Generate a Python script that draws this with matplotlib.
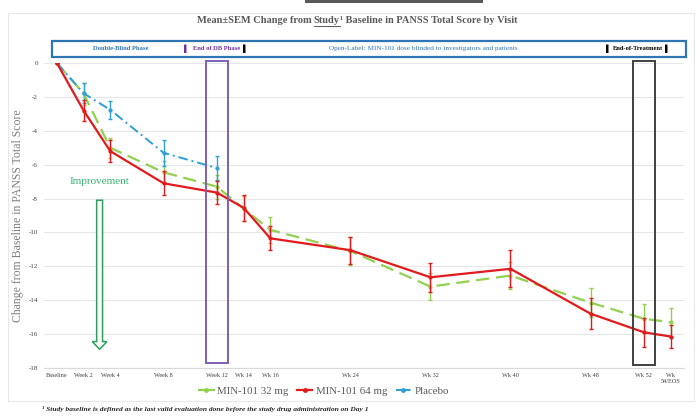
import numpy as np
import matplotlib
matplotlib.use('Agg')
import matplotlib.pyplot as plt
from matplotlib.patches import Rectangle, FancyArrow
from matplotlib.lines import Line2D

# visits, placed on an evenly spaced category axis with empty slots
visits = ['Baseline', 'Week 2', 'Week 4', 'Week 8', 'Week 12', 'Wk 14', 'Wk 16',
          'Wk 24', 'Wk 32', 'Wk 40', 'Wk 48', 'Wk 52', 'Wk\n54/EOS']
slots = [0, 1, 2, 4, 6, 7, 8, 11, 14, 17, 20, 22, 23]

mean_32 = [0, -1.8, -5.0, -6.45, -7.3, -8.6, -9.85, -11.1, -13.2, -12.55, -14.15, -15.1, -15.3]
sem_32 = [0, 0.65, 0.6, 0.65, 0.7, 0.75, 0.75, 0.8, 0.8, 0.8, 0.85, 0.85, 0.85]
mean_64 = [0, -2.8, -5.2, -7.1, -7.65, -8.55, -10.35, -11.05, -12.65, -12.15, -14.8, -15.9, -16.15]
sem_64 = [0, 0.6, 0.65, 0.7, 0.7, 0.75, 0.7, 0.8, 0.85, 1.1, 0.9, 0.85, 0.7]
placebo_visits = ['Baseline', 'Week 2', 'Week 4', 'Week 8', 'Week 12']
mean_pbo = [0, -1.78, -2.76, -5.3, -6.2]
sem_pbo = [0, 0.6, 0.55, 0.75, 0.7]

yticks = [0, -2, -4, -6, -8, -10, -12, -14, -16, -18]

serif = 'Liberation Serif'
plt.rcParams['font.family'] = serif

fig = plt.figure(figsize=(6.96, 4.18), dpi=100)
ax = fig.add_axes([0.0626, 0.12, 0.92, 0.729])

c32, c64, cpbo = '#92d050', '#e31a1c', '#2e9fd8'
ls32, lspbo = (0, (6, 3)), (0, (5, 2, 1, 2))

x = np.array(slots)
x_pbo = np.array([slots[visits.index(v)] for v in placebo_visits])
ax.errorbar(x, mean_32, yerr=sem_32, color=c32, lw=1.6, ls=ls32,
            marker='o', ms=2, elinewidth=1.0, capsize=1.5, zorder=3)
ax.errorbar(x, mean_64, yerr=sem_64, color=c64, lw=1.6, ls='-',
            marker='o', ms=2, elinewidth=1.0, capsize=1.5, zorder=4)
ax.errorbar(x_pbo, mean_pbo, yerr=sem_pbo, color=cpbo, lw=1.4, ls=lspbo,
            marker='o', ms=2, elinewidth=1.0, capsize=1.5, zorder=3)

ax.set_xlim(-0.5, 23.5)
ax.set_ylim(-18, 0)
ax.set_yticks(yticks)
ax.set_yticklabels([str(v) for v in yticks], fontsize=5, color='#404040')
ax.set_xticks(slots)
ax.set_xticklabels(visits, fontsize=4.5, color='#404040', linespacing=1.1)
ax.tick_params(length=0, pad=4)
ax.grid(axis='y', color='#e6e6e6', lw=0.8)
for s in ['top', 'right', 'left']:
    ax.spines[s].set_visible(False)
ax.spines['bottom'].set_color('#d9d9d9')
ax.set_axisbelow(True)

ax.set_ylabel('Change from Baseline in PANSS Total Score', fontsize=8.5, color='#7f7f7f', labelpad=3)

# highlight boxes for end of DB phase and end of treatment
ax.add_patch(Rectangle((5.6, -17.7), 0.8, 17.85, fill=False, ec='#7f5fb5', lw=1.4,
                       clip_on=False, zorder=5))
ax.add_patch(Rectangle((21.6, -17.85), 0.8, 18.0, fill=False, ec='#404040', lw=1.4,
                       clip_on=False, zorder=5))

# improvement annotation
ax.text(1.6, -7.0, 'Improvement', color='#3cb371', fontsize=8, ha='center', va='center')
ax.add_patch(FancyArrow(1.6, -8.1, 0, -8.8, width=0.22, head_width=0.55, head_length=0.45,
                        length_includes_head=True, fc='white', ec='#2ca05a', lw=1.1, zorder=5))

# title, built in parts so that "Study" can be underlined
fig.canvas.draw()
renderer = fig.canvas.get_renderer()
tkw = dict(fontsize=7.5, fontweight='bold', color='#595959', va='baseline')
parts = ['Mean\u00b1SEM Change from ', 'Study', '\u00b9', ' Baseline in PANSS Total Score by Visit']
texts = [fig.text(0, 0.945, p, **tkw) for p in parts]
widths = [t.get_window_extent(renderer).width for t in texts]
total = sum(widths)
x0 = (0.513 * fig.bbox.width - total / 2)
for t, w in zip(texts, widths):
    t.set_x(x0 / fig.bbox.width)
    x0 += w
study_left = texts[1].get_position()[0]
study_right = study_left + widths[1] / fig.bbox.width
fig.lines.append(Line2D([study_left, study_right], [0.938, 0.938], transform=fig.transFigure,
                        color='#595959', lw=0.7))

fig.patches.append(Rectangle((0.438, 0.993), 0.256, 0.01, transform=fig.transFigure,
                             fc='#595959', ec='none'))
fig.patches.append(Rectangle((0.012, 0.04), 0.985, 0.93, transform=fig.transFigure,
                             fill=False, ec='#e8e8e8', lw=0.8))

# phase header bar
fig.patches.append(Rectangle((0.075, 0.864), 0.910, 0.038, transform=fig.transFigure,
                             fc='white', ec='#2e75b6', lw=1.6))
hy = 0.883
fig.text(0.173, hy, 'Double-Blind Phase', fontsize=4.7, color='#2e75b6', fontweight='bold',
         ha='center', va='center')
fig.text(0.268, hy, '\u258c', fontsize=5, color='#7030a0', ha='center', va='center')
fig.text(0.311, hy, 'End of DB Phase', fontsize=4.7, color='#7030a0', fontweight='bold',
         ha='center', va='center')
fig.text(0.353, hy, '\u258c', fontsize=5, color='black', ha='center', va='center')
fig.text(0.608, hy, 'Open-Label: MIN-101 dose blinded to investigators and patients', fontsize=5.2,
         color='#2e75b6', ha='center', va='center')
fig.text(0.874, hy, '\u258c', fontsize=5, color='black', ha='center', va='center')
fig.text(0.917, hy, 'End-of-Treatment', fontsize=4.7, color='black', fontweight='bold',
         ha='center', va='center')
fig.text(0.959, hy, '\u258c', fontsize=5, color='black', ha='center', va='center')

handles = [Line2D([], [], color=c32, lw=1.6, marker='o', ms=2.5),
           Line2D([], [], color=c64, lw=1.6, marker='o', ms=2.5),
           Line2D([], [], color=cpbo, lw=1.4, ls=(0, (3, 1.5)), marker='o', ms=2.5)]
leg = fig.legend(handles, ['MIN-101 32 mg', 'MIN-101 64 mg', 'Placebo'],
                 loc='center', bbox_to_anchor=(0.465, 0.064), ncol=3, frameon=False,
                 fontsize=7.8, handlelength=1.4, columnspacing=0.8, handletextpad=0.3)
for t in leg.get_texts():
    t.set_color('#595959')

fig.text(0.06, 0.022, '\u00b9 Study baseline is defined as the last valid evaluation done before the study drug administration on Day 1',
         fontsize=5.4, style='italic', fontweight='bold', color='#262626', ha='left', va='center')

fig.savefig('out.png', dpi=100)
